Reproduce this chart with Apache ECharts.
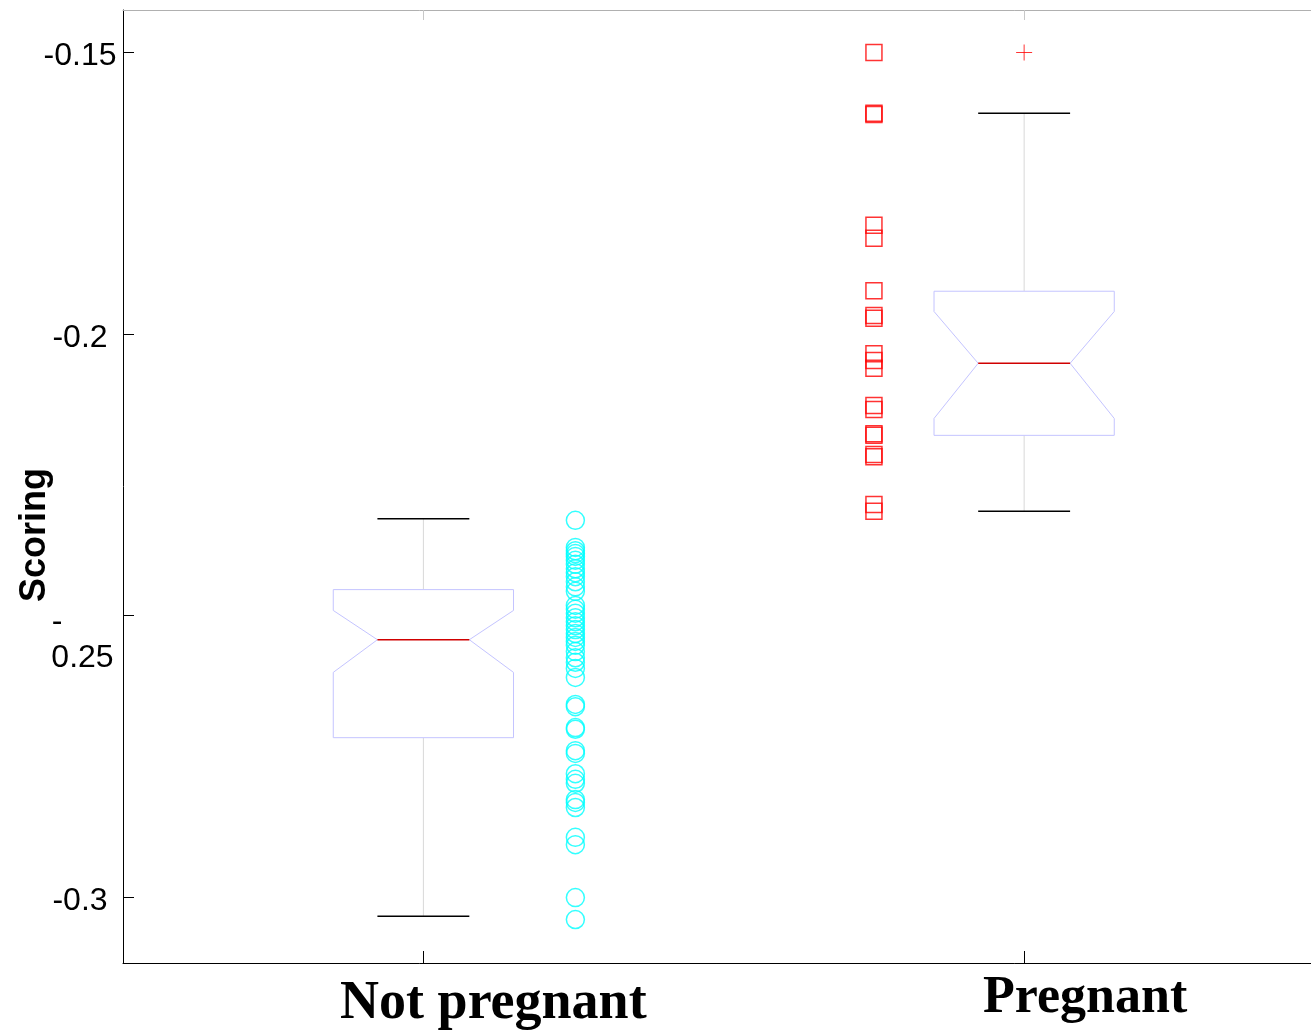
<!DOCTYPE html>
<html>
<head>
<meta charset="utf-8">
<title>Scoring by group</title>
<script src="https://cdn.jsdelivr.net/npm/echarts@6/dist/echarts.min.js"></script>
<style>
  html, body { margin: 0; padding: 0; background: #fff; }
  #chart { width: 1311px; height: 1034px; }
</style>
</head>
<body>
<div id="chart"></div>
<script>
// group names and y ticks
const categories = ["Not pregnant", "Pregnant"];
const yTicks = [-0.3, -0.25, -0.2, -0.15];

// notched box stats: [lowerCap, q1, notchLow, median, notchHigh, q3, upperCap]
const notPregnantBox = [-0.3034, -0.2717, -0.2601, -0.2543, -0.2491, -0.2454, -0.2328];
const pregnantBox = [-0.2315, -0.218, -0.215, -0.2052, -0.196, -0.1924, -0.1608];
const pregnantOutliers = [-0.15];

// raw scores drawn beside each box
const notPregnantScores = [
  -0.2331, -0.2379, -0.2385, -0.239, -0.2395, -0.2402, -0.2409, -0.2417,
  -0.2424, -0.2431, -0.244, -0.2449, -0.2457, -0.2482, -0.2489, -0.2496,
  -0.2504, -0.2511, -0.2518, -0.2525, -0.2532, -0.2539, -0.2546, -0.2553,
  -0.2564, -0.2575, -0.2583, -0.2594, -0.261, -0.2658, -0.2662, -0.2699,
  -0.2702, -0.274, -0.2745, -0.2781, -0.2791, -0.2798, -0.2827, -0.2832,
  -0.2841, -0.2894, -0.2907, -0.3001, -0.304
];
const pregnantScores = [
  -0.15, -0.1608, -0.161, -0.1807, -0.183, -0.1923, -0.1967, -0.1972,
  -0.2035, -0.2047, -0.2061, -0.2127, -0.2134, -0.2177, -0.218, -0.2214,
  -0.2218, -0.2303, -0.2315
];

const chart = echarts.init(document.getElementById("chart"));

const boxHalf = 0.15;
const notchHalf = 0.0765;
const sansFont = "'Liberation Sans', Arial, sans-serif";
const serifFont = "'Liberation Serif', 'Times New Roman', serif";

const renderBox = (params, api) => {
  const x = api.value(0);
  const v = [1, 2, 3, 4, 5, 6, 7].map((i) => api.value(i));
  const [lowCap, q1, notchLo, med, notchHi, q3, highCap] = v;
  const p = (dx, y) => api.coord([x + dx, y]);
  const poly = [
    p(-boxHalf, q3), p(boxHalf, q3), p(boxHalf, notchHi), p(notchHalf, med),
    p(boxHalf, notchLo), p(boxHalf, q1), p(-boxHalf, q1), p(-boxHalf, notchLo),
    p(-notchHalf, med), p(-boxHalf, notchHi)
  ];
  const line = (a, b, stroke, width) => ({
    type: "line",
    shape: { x1: a[0], y1: a[1], x2: b[0], y2: b[1] },
    style: { stroke: stroke, lineWidth: width }
  });
  return {
    type: "group",
    children: [
      line(p(0, q3), p(0, highCap), "#d8d8d8", 1),
      line(p(0, q1), p(0, lowCap), "#d8d8d8", 1),
      line(p(-notchHalf, highCap), p(notchHalf, highCap), "#000", 1.5),
      line(p(-notchHalf, lowCap), p(notchHalf, lowCap), "#000", 1.5),
      {
        type: "polygon",
        shape: { points: poly },
        style: { fill: "#fff", stroke: "#c4c4ff", lineWidth: 1 }
      },
      line(p(-notchHalf, med), p(notchHalf, med), "#d00000", 1.5)
    ]
  };
};

const option = {
  backgroundColor: "#fff",
  animation: false,
  grid: { left: 123, right: 0, top: 10, bottom: 71, containLabel: false },
  xAxis: [
    {
      type: "value",
      min: 0.5,
      max: 2.4775,
      position: "bottom",
      splitLine: { show: false },
      axisLine: { lineStyle: { color: "#000", width: 1 } },
      axisTick: { inside: true, length: 12, customValues: [1, 2], lineStyle: { color: "#000" } },
      axisLabel: {
        customValues: [1, 2],
        margin: 10,
        formatter: (v) => (v === 1 ? "{a|" + categories[0] + "}" : "{b|" + categories[1] + "}"),
        rich: {
          a: { fontFamily: serifFont, fontWeight: "bold", fontSize: 54, color: "#000", padding: [4, 0, 0, 140] },
          b: { fontFamily: serifFont, fontWeight: "bold", fontSize: 52, color: "#000", padding: [0, 0, 0, 122] }
        }
      }
    },
    {
      type: "value",
      min: 0.5,
      max: 2.4775,
      position: "top",
      splitLine: { show: false },
      axisLine: { lineStyle: { color: "#b0b0b0", width: 1 } },
      axisTick: { inside: true, length: 10, customValues: [1, 2], lineStyle: { color: "#c8c8c8" } },
      axisLabel: { show: false }
    }
  ],
  yAxis: {
    type: "value",
    min: -0.31172,
    max: -0.14245,
    splitLine: { show: false },
    axisLine: { show: true, lineStyle: { color: "#000", width: 1 } },
    axisTick: { inside: true, length: 11, customValues: yTicks, lineStyle: { color: "#000" } },
    axisLabel: {
      customValues: yTicks,
      margin: 43,
      align: "center",
      fontFamily: sansFont,
      fontSize: 32,
      color: "#000",
      padding: [8, 0, 0, 0],
      formatter: (v) => {
        if (Math.abs(v + 0.25) < 1e-9) return "{e| }\n{m|-}\n{n|0.25}";
        return String(Math.round(v * 100) / 100);
      },
      rich: {
        e: { fontFamily: sansFont, fontSize: 32, lineHeight: 42 },
        m: { fontFamily: sansFont, fontSize: 32, lineHeight: 36, color: "#000", padding: [0, 46, 0, 0] },
        n: { fontFamily: sansFont, fontSize: 32, lineHeight: 36, color: "#000", padding: [0, 0, 0, 5] }
      }
    }
  },
  graphic: [
    {
      type: "text",
      x: 35,
      y: 535,
      rotation: Math.PI / 2,
      style: {
        text: "Scoring",
        font: "bold 36px " + sansFont,
        fill: "#000",
        textAlign: "center",
        textVerticalAlign: "middle"
      }
    }
  ],
  series: [
    {
      name: "Boxes",
      type: "custom",
      renderItem: renderBox,
      data: [[1].concat(notPregnantBox), [2].concat(pregnantBox)],
      z: 2
    },
    {
      name: "Outliers",
      type: "scatter",
      symbol: "path://M0 5 L10 5 M5 0 L5 10",
      symbolSize: 16,
      itemStyle: { color: "none", borderColor: "#ff0000", borderWidth: 1 },
      data: pregnantOutliers.map((v) => [2, v]),
      z: 3
    },
    {
      name: "Not pregnant scores",
      type: "scatter",
      symbol: "circle",
      symbolSize: 18,
      itemStyle: { color: "rgba(0,0,0,0)", borderColor: "#00ffff", borderWidth: 1.5 },
      data: notPregnantScores.map((v) => [1.253, v]),
      z: 3
    },
    {
      name: "Pregnant scores",
      type: "scatter",
      symbol: "rect",
      symbolSize: 16,
      itemStyle: { color: "rgba(0,0,0,0)", borderColor: "#ff0000", borderWidth: 1.5 },
      data: pregnantScores.map((v) => [1.75, v]),
      z: 3
    }
  ]
};

chart.setOption(option);
window.addEventListener("resize", () => chart.resize());
</script>
</body>
</html>
